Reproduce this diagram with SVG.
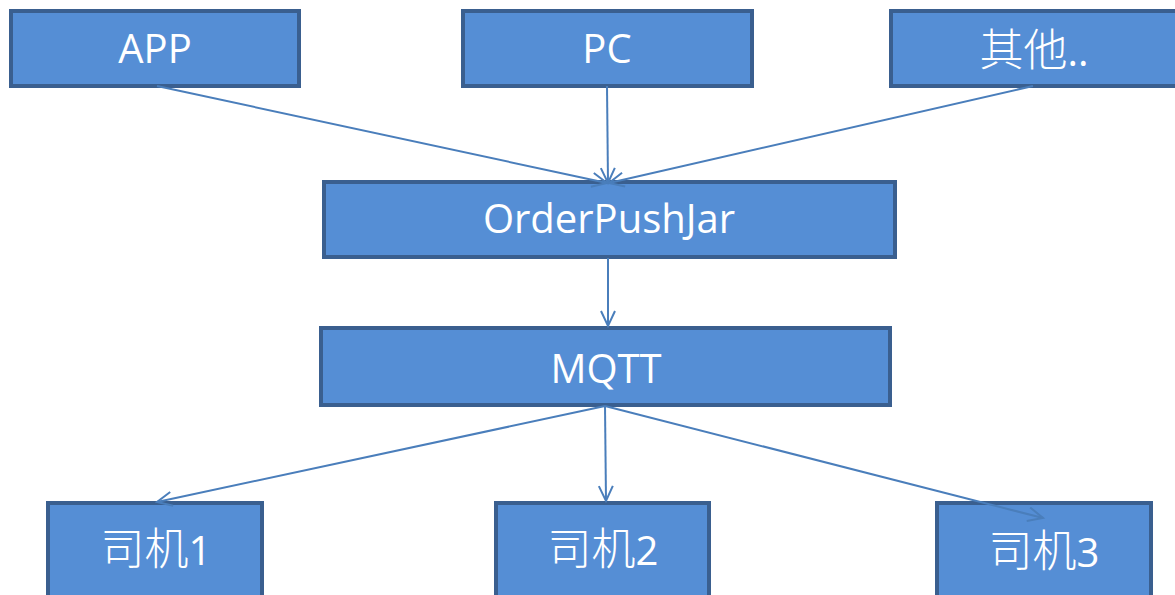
<svg xmlns="http://www.w3.org/2000/svg" width="1175" height="595" viewBox="0 0 1175 595">
  <style>
    .box { fill: #558ED5; stroke: #3A5F8F; stroke-width: 4; }
    .lbl { fill: #FFFFFF; font-family: "Open Sans", "Liberation Sans", "Noto Sans CJK SC", sans-serif; font-size: 40px; text-anchor: middle; }
    .cjk { font-family: "Noto Sans CJK SC", sans-serif; font-weight: 300; font-size: 44px; }
    .link { stroke: #4A7EBB; stroke-width: 2; fill: none; marker-end: url(#open-arrow); }
  </style>
  <defs>
    <marker id="open-arrow" markerUnits="userSpaceOnUse" markerWidth="20" markerHeight="20" refX="16" refY="8" orient="auto">
      <path d="M1,1 L16,8 L1,15" fill="none" stroke="#4A7EBB" stroke-width="2"/>
    </marker>
  </defs>

  <rect width="1175" height="595" fill="#FFFFFF"/>

  <g id="app">
    <rect class="box" x="11" y="11" width="288" height="75"/>
    <text class="lbl" x="155" y="63">APP</text>
  </g>
  <g id="pc">
    <rect class="box" x="463" y="11" width="289" height="75"/>
    <text class="lbl" x="607" y="63">PC</text>
  </g>
  <g id="other">
    <rect class="box" x="891" y="11" width="290" height="75"/>
    <text class="lbl" x="1034" y="66"><tspan class="cjk">其他</tspan>..</text>
  </g>
  <g id="orderpushjar">
    <rect class="box" x="324" y="182" width="571" height="75"/>
    <text class="lbl" x="609" y="233">OrderPushJar</text>
  </g>
  <g id="mqtt">
    <rect class="box" x="321" y="328" width="569" height="77"/>
    <text class="lbl" x="606" y="383">MQTT</text>
  </g>
  <g id="driver1">
    <rect class="box" x="48" y="503" width="214" height="96"/>
    <text class="lbl" x="156" y="565"><tspan class="cjk">司机</tspan>1</text>
  </g>
  <g id="driver2">
    <rect class="box" x="496" y="503" width="213" height="96"/>
    <text class="lbl" x="603" y="565"><tspan class="cjk">司机</tspan>2</text>
  </g>
  <g id="driver3">
    <rect class="box" x="937" y="503" width="214" height="96"/>
    <text class="lbl" x="1044" y="567"><tspan class="cjk">司机</tspan>3</text>
  </g>

  <g id="connectors">
    <line class="link" x1="157" y1="86" x2="607" y2="183"/>
    <line class="link" x1="607" y1="86" x2="608" y2="183"/>
    <line class="link" x1="1033" y1="86" x2="609" y2="183"/>
    <line class="link" x1="608" y1="258" x2="608" y2="326"/>
    <line class="link" x1="605" y1="406" x2="157" y2="502"/>
    <line class="link" x1="605" y1="406" x2="606" y2="501"/>
    <line class="link" x1="605" y1="406" x2="1043" y2="518"/>
  </g>
</svg>
